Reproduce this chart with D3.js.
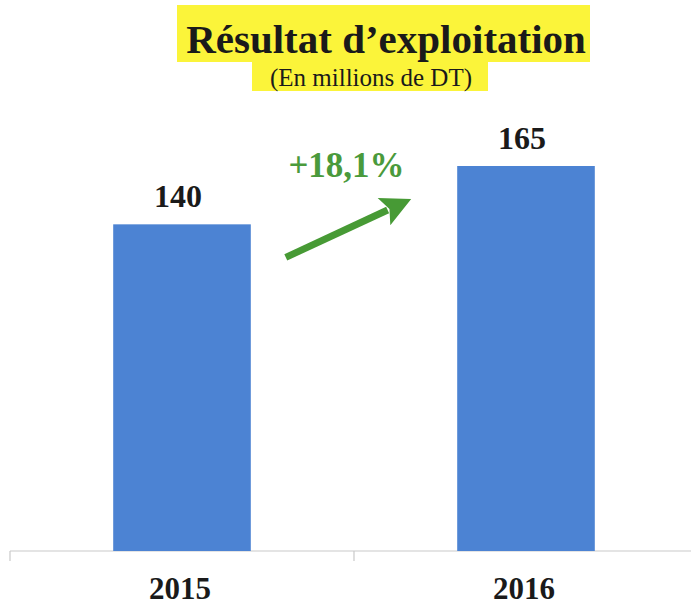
<!DOCTYPE html>
<html>
<head>
<meta charset="utf-8">
<script src="https://cdn.jsdelivr.net/npm/d3@7"></script>
<style>
html,body{margin:0;padding:0;background:#fff;}
svg{display:block;}
</style>
</head>
<body>
<svg id="chart" width="691" height="607"></svg>
<script>
const categories = ["2015", "2016"];
const values = [140, 165];
const valueLabels = ["140", "165"];
const growthLabel = "+18,1%";
const titleText = "Résultat d’exploitation";
const subtitleText = "(En millions de DT)";

const W = 691, H = 607;
const svg = d3.select("#chart");
const serif = "'Liberation Serif','Times New Roman',Times,serif";

const x = d3.scaleBand().domain(categories).range([10, 698]).paddingInner(0.6).paddingOuter(0.3);
const y = d3.scaleLinear().domain([0, 165]).range([551, 166]);

// Title highlights
svg.append("rect").attr("x", 177).attr("y", 5).attr("width", 413).attr("height", 57).attr("fill", "#fbf43a");
svg.append("rect").attr("x", 252).attr("y", 58).attr("width", 236).attr("height", 33).attr("fill", "#fbf43a");

svg.append("text").attr("x", 386).attr("y", 53).attr("text-anchor", "middle")
  .attr("font-family", serif).attr("font-weight", "bold").attr("font-size", 41)
  .attr("fill", "#1a1a1a").text(titleText);
svg.append("text").attr("x", 371).attr("y", 86).attr("text-anchor", "middle")
  .attr("font-family", serif).attr("font-size", 25)
  .attr("fill", "#1a1a1a").text(subtitleText);

// Axis line and ticks at band edges
const step = x.step();
const axisG = svg.append("g");
axisG.append("line").attr("x1", 10).attr("x2", W).attr("y1", y(0)).attr("y2", y(0))
  .attr("stroke", "#c9c9c9").attr("stroke-width", 1.2);
const edges = categories.map((c) => x(c) - x.paddingOuter() * step);
axisG.selectAll("line.tick").data(edges).enter().append("line").attr("class", "tick")
  .attr("x1", d => d).attr("x2", d => d).attr("y1", y(0)).attr("y2", y(0) + 10)
  .attr("stroke", "#c9c9c9").attr("stroke-width", 1.2);

// Bars
svg.selectAll("rect.bar").data(values).enter().append("rect").attr("class", "bar")
  .attr("x", (d, i) => x(categories[i]))
  .attr("y", d => y(d))
  .attr("width", x.bandwidth())
  .attr("height", d => y(0) - y(d))
  .attr("fill", "#4c83d3");

// Value labels
svg.selectAll("text.val").data(values).enter().append("text").attr("class", "val")
  .attr("x", (d, i) => x(categories[i]) + x.bandwidth() / 2 - 4)
  .attr("y", d => y(d) - 17)
  .attr("text-anchor", "middle")
  .attr("font-family", serif).attr("font-weight", "bold").attr("font-size", 32)
  .attr("fill", "#1a1a1a").text((d, i) => valueLabels[i]);

// Category labels
svg.selectAll("text.cat").data(categories).enter().append("text").attr("class", "cat")
  .attr("x", d => x(d) + x.bandwidth() / 2 - 2)
  .attr("y", 599)
  .attr("text-anchor", "middle")
  .attr("font-family", serif).attr("font-weight", "bold").attr("font-size", 31)
  .attr("fill", "#1a1a1a").text(d => d);

// Growth arrow
const x0 = x(categories[0]) + x.bandwidth() + 35, y0 = y(values[0]) + 33;
const x1 = x(categories[1]) - 46, y1 = y(values[1]) + 33;
const dx = x1 - x0, dy = y1 - y0, len = Math.hypot(dx, dy);
const ux = dx / len, uy = dy / len, px = -uy, py = ux;
const headLen = 30, headW = 15;
const bx = x1 - ux * headLen, by = y1 - uy * headLen;
const green = "#479a35";
svg.append("line").attr("x1", x0).attr("y1", y0).attr("x2", bx + ux * 4).attr("y2", by + uy * 4)
  .attr("stroke", green).attr("stroke-width", 7);
svg.append("path")
  .attr("d", `M${x1},${y1} L${bx + px * headW},${by + py * headW} L${bx + ux * 6},${by + uy * 6} L${bx - px * headW},${by - py * headW} Z`)
  .attr("fill", green);

svg.append("text").attr("x", (x0 + x1) / 2 - 2).attr("y", 177).attr("text-anchor", "middle")
  .attr("font-family", serif).attr("font-weight", "bold").attr("font-size", 35)
  .attr("fill", "#4a9a3c").text(growthLabel);
</script>
</body>
</html>
